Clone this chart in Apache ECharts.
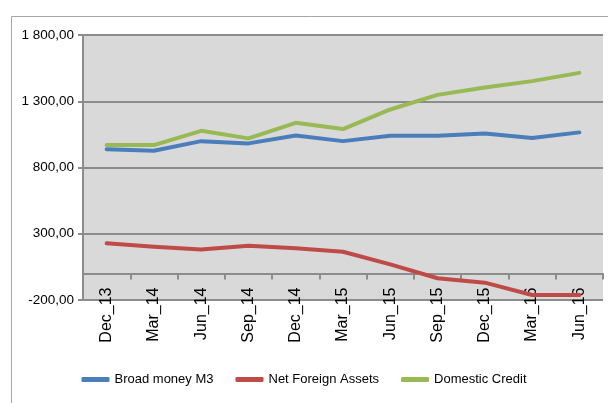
<!DOCTYPE html>
<html>
<head>
<meta charset="utf-8">
<script src="https://cdn.jsdelivr.net/npm/echarts@6/dist/echarts.min.js"></script>
<style>
html,body{margin:0;padding:0;background:#fff;}
#c{width:608px;height:403px;}
</style>
</head>
<body>
<div id="c"></div>
<script>
const categories = ["Dec_13","Mar_14","Jun_14","Sep_14","Dec_14","Mar_15","Jun_15","Sep_15","Dec_15","Mar_16","Jun_16"];
const broadMoney = [937, 926, 999, 982, 1042, 999, 1039, 1039, 1057, 1022, 1065];
const netForeignAssets = [228, 202, 182, 210, 190, 164, 69, -36, -69, -162, -162];
const domesticCredit = [969, 969, 1077, 1020, 1137, 1090, 1238, 1348, 1404, 1452, 1514];
const yTicks = {min: -200, max: 1800, interval: 500};

function fmt(v){
  const neg = v < 0;
  const s = Math.abs(v).toFixed(2).split('.');
  const int = s[0].replace(/\B(?=(\d{3})+(?!\d))/g, ' ');
  return (neg ? '-' : '') + int + ',' + s[1];
}

const W = 608, H = 403;
const gridTop = 35, gridBottom = 103;
const plotH = H - gridTop - gridBottom;
// position the category axis where the value axis crosses zero
const zeroOffset = -plotH * (0 - yTicks.min) / (yTicks.max - yTicks.min);

const chart = echarts.init(document.getElementById('c'), null, {renderer: 'canvas'});
const font = '"Liberation Sans", Arial, sans-serif';
chart.setOption({
  animation: false,
  backgroundColor: '#ffffff',
  graphic: [{
    type: 'rect', left: 9, top: 14, silent: true,
    shape: {width: 620, height: 420},
    style: {fill: 'none', stroke: '#a6a6a6', lineWidth: 1}
  }],
  grid: {left: 83, right: 5, top: gridTop, bottom: gridBottom, show: true, backgroundColor: '#d9d9d9', borderWidth: 0},
  legend: {
    bottom: 12, left: 'center', icon: 'roundRect', itemWidth: 28, itemHeight: 5, itemGap: 22,
    textStyle: {fontFamily: font, fontSize: 13, color: '#000'},
    data: ['Broad money M3', 'Net Foreign Assets', 'Domestic Credit']
  },
  xAxis: {
    type: 'category', data: categories, boundaryGap: true, offset: zeroOffset,
    axisLine: {onZero: false, lineStyle: {color: '#8c8c8c', width: 2}},
    axisTick: {show: true, length: 6, inside: false, lineStyle: {color: '#8c8c8c', width: 2}},
    axisLabel: {rotate: 90, margin: 14, fontFamily: font, fontSize: 16, color: '#000', interval: 0},
    splitLine: {show: false}
  },
  yAxis: {
    type: 'value', min: yTicks.min, max: yTicks.max, interval: yTicks.interval,
    axisLine: {show: true, lineStyle: {color: '#8c8c8c', width: 2}},
    axisTick: {show: true, length: 5, lineStyle: {color: '#8c8c8c', width: 2}},
    axisLabel: {formatter: fmt, fontFamily: font, fontSize: 13.5, color: '#000', margin: 9},
    splitLine: {show: true, lineStyle: {color: '#8c8c8c', width: 2}}
  },
  series: [
    {name: 'Broad money M3', type: 'line', data: broadMoney, symbol: 'none', color: '#4a7ebb',
     lineStyle: {width: 4, color: '#4a7ebb', cap: 'round', join: 'round'}},
    {name: 'Net Foreign Assets', type: 'line', data: netForeignAssets, symbol: 'none', color: '#be4b48',
     lineStyle: {width: 4, color: '#be4b48', cap: 'round', join: 'round'}},
    {name: 'Domestic Credit', type: 'line', data: domesticCredit, symbol: 'none', color: '#98b954',
     lineStyle: {width: 4, color: '#98b954', cap: 'round', join: 'round'}}
  ]
});
</script>
</body>
</html>
